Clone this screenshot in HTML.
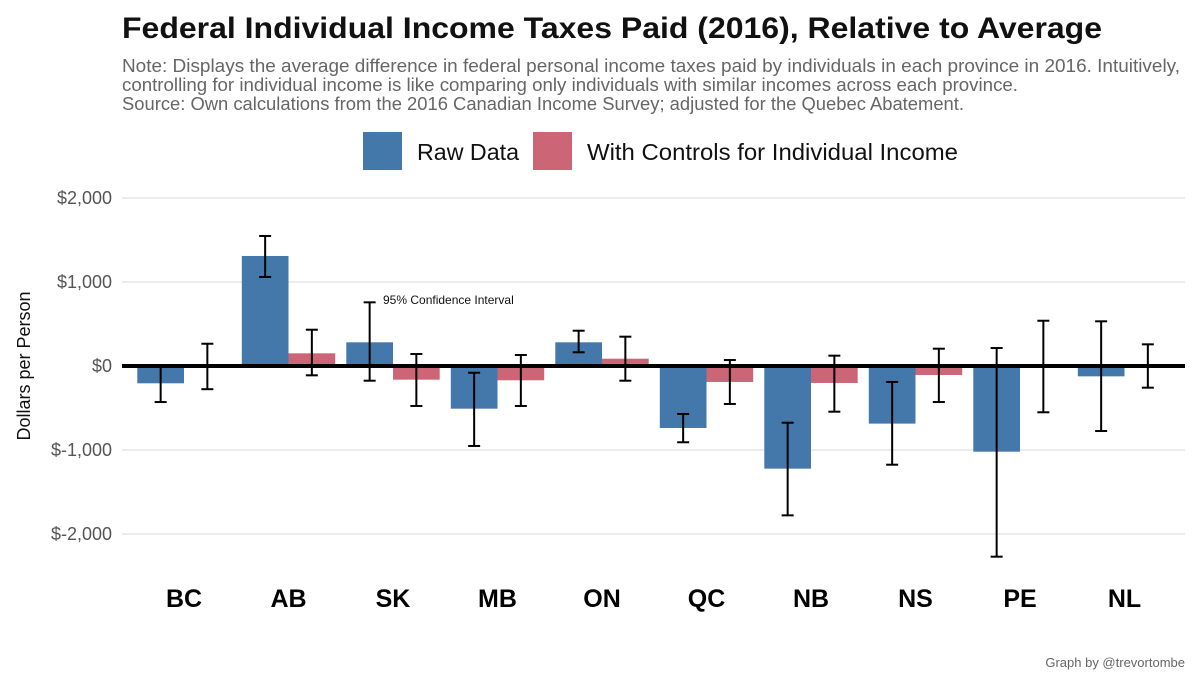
<!DOCTYPE html>
<html><head><meta charset="utf-8"><style>
body{margin:0;background:#fff;font-family:"Liberation Sans",Arial,sans-serif}
svg text{font-family:"Liberation Sans",Arial,sans-serif}
</style></head><body>
<svg id="c" width="1200" height="686" viewBox="0 0 1200 686">
<text x="122" y="38" font-size="30" font-weight="bold" fill="#111" textLength="980" lengthAdjust="spacingAndGlyphs">Federal Individual Income Taxes Paid (2016), Relative to Average</text>
<g fill="#666" font-size="18">
<text x="122" y="72" textLength="1058" lengthAdjust="spacingAndGlyphs">Note: Displays the average difference in federal personal income taxes paid by individuals in each province in 2016. Intuitively,</text>
<text x="122" y="91" textLength="896" lengthAdjust="spacingAndGlyphs">controlling for individual income is like comparing only individuals with similar incomes across each province.</text>
<text x="122" y="110" textLength="842" lengthAdjust="spacingAndGlyphs">Source: Own calculations from the 2016 Canadian Income Survey; adjusted for the Quebec Abatement.</text>
</g>
<g>
<rect x="363" y="132" width="39" height="38" fill="#4477aa"/>
<text x="417" y="160" font-size="23.5" fill="#111" textLength="102" lengthAdjust="spacingAndGlyphs">Raw Data</text>
<rect x="533" y="132" width="39" height="38" fill="#cc6677"/>
<text x="587" y="160" font-size="23.5" fill="#111" textLength="371" lengthAdjust="spacingAndGlyphs">With Controls for Individual Income</text>
</g>
<text transform="translate(30,366) rotate(-90)" text-anchor="middle" font-size="18" fill="#111">Dollars per Person</text>
<g id="grid"></g><g id="bars"></g><g id="err"></g><g id="xl"></g>
<text x="383" y="304" font-size="12" fill="#111">95% Confidence Interval</text>
<text x="1185" y="667" text-anchor="end" font-size="13" fill="#666">Graph by @trevortombe</text>
</svg>
<script>
const categories=["BC","AB","SK","MB","ON","QC","NB","NS","PE","NL"];
const rawValues=[-206,1310,282,-508,282,-738,-1222,-686,-1020,-123];
const rawLow=[-429,1060,-175,-952,163,-908,-1778,-1175,-2270,-774];
const rawHigh=[10,1548,758,-80,420,-571,-675,-190,214,532];
const ctlValues=[-5,151,-163,-170,87,-190,-202,-107,-5,-5];
const ctlLow=[-276,-111,-476,-476,-175,-452,-544,-429,-551,-258];
const ctlHigh=[265,432,143,131,349,71,123,206,539,258];
const yTicks=[2000,1000,0,-1000,-2000];
const yTickLabels=["$2,000","$1,000","$0","$-1,000","$-2,000"];
const NS="http://www.w3.org/2000/svg";
const y=v=>366-v*0.084;
const cx=i=>184+i*104.5;
const bw=46.7;
function mk(tag,attrs,parent){const e=document.createElementNS(NS,tag);for(const k in attrs)e.setAttribute(k,attrs[k]);document.getElementById(parent).appendChild(e);return e;}
yTicks.forEach((t,i)=>{
 if(t!==0){const l=mk("line",{x1:122,x2:1185,y1:y(t),y2:y(t),stroke:"#e5e5e5","stroke-width":1.5},"grid");
 
 }
 const tx=mk("text",{x:112,y:y(t)+6,"text-anchor":"end","font-size":18,fill:"#555"},"grid");
 tx.textContent=yTickLabels[i];
 
 
});
function bar(i,v,x,col,name){
 const r=mk("rect",{x:x,y:Math.min(y(v),y(0)),width:bw,height:Math.abs(y(v)-y(0)),fill:col},"bars");
 
 
}
function eb(x,lo,hi){
 const g=mk("g",{stroke:"#000","stroke-width":2},"err");
 
 
 const m=(a)=>{const e=document.createElementNS(NS,"line");for(const k in a)e.setAttribute(k,a[k]);g.appendChild(e);};
 m({x1:x,x2:x,y1:y(hi),y2:y(lo)});
 m({x1:x-6,x2:x+6,y1:y(hi),y2:y(hi)});
 m({x1:x-6,x2:x+6,y1:y(lo),y2:y(lo)});
}
categories.forEach((c,i)=>{
 bar(i,rawValues[i],cx(i)-bw,"#4477aa","bar-raw-"+c.toLowerCase());
 bar(i,ctlValues[i],cx(i),"#cc6677","bar-controls-"+c.toLowerCase());
 const t=mk("text",{x:cx(i),y:607,"text-anchor":"middle","font-size":25,"font-weight":"bold",fill:"#000"},"xl");
 t.textContent=c;
 
 
});
const zl=mk("line",{x1:122,x2:1185,y1:y(0),y2:y(0),stroke:"#000","stroke-width":4},"bars");


categories.forEach((c,i)=>{
 eb(cx(i)-bw/2,rawLow[i],rawHigh[i]);
 eb(cx(i)+bw/2,ctlLow[i],ctlHigh[i]);
});
</script>
</body></html>
